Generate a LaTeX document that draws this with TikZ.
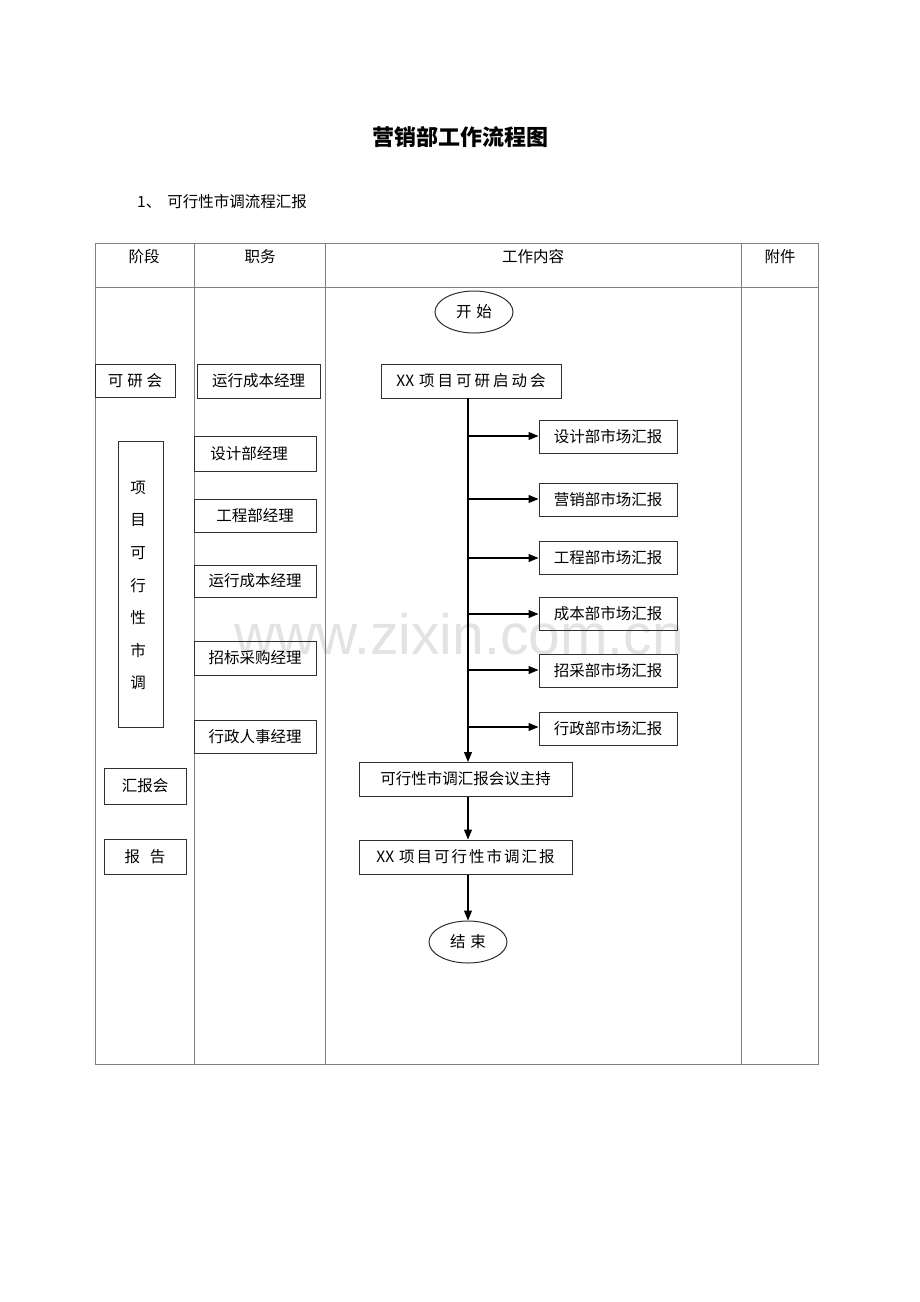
\documentclass[tikz,border=0pt]{standalone}
\usepackage{fontspec}
\setmainfont{Noto Sans CJK SC}
\newfontfamily\wmfont{Liberation Sans}
\usetikzlibrary{shapes.geometric,arrows.meta}
\definecolor{tblgray}{HTML}{808080}
\definecolor{boxline}{HTML}{303030}
\definecolor{wmgray}{HTML}{E3E3E3}
\begin{document}
\begin{tikzpicture}[x=1pt,y=-1pt,
  every node/.style={font=\fontsize{15.5}{17}\selectfont, inner sep=0pt},
  tline/.style={draw=tblgray, line width=0.9pt},
  bx/.style={draw=boxline, line width=1pt, rectangle},
  ov/.style={draw=boxline, line width=1pt, ellipse},
  arr/.style={draw=black, line width=1.1pt, -{Triangle[length=10pt,width=8pt]}},
  ln/.style={draw=black, line width=1.1pt}]
\useasboundingbox (0,0) rectangle (920,1302);
\fill[white] (0,0) rectangle (920,1302);
% watermark
\node[text=wmgray, font=\wmfont\fontsize{57}{60}\selectfont] (wm) at (459,634) {www.zixin.com.cn};
% title
\node[font=\bfseries\fontsize{22}{24}\selectfont] (title) at (460,137) {营销部工作流程图};
\node[anchor=west] (sub) at (137,202) {1、\hspace{6pt}可行性市调流程汇报};
% table
\draw[tline] (95,243) rectangle (818,1064);
\draw[tline] (95,287) -- (818,287);
\draw[tline] (194,243) -- (194,1064);
\draw[tline] (325,243) -- (325,1064);
\draw[tline] (741,243) -- (741,1064);
\node (h1) at (144,257) {阶段};
\node (h2) at (260,257) {职务};
\node (h3) at (533,257) {工作内容};
\node (h4) at (780,257) {附件};
% left column
\node[bx, minimum width=80pt, minimum height=33pt] (kyh) at (135,381) {可\hspace{4pt}研\hspace{4pt}会};
\node[bx, minimum width=45pt, minimum height=286pt] (xm) at (140.5,584) {};
\foreach \c [count=\i from 0] in {项,目,可,行,性,市,调} {
  \node (xm\i) at (138,488+32.5*\i) {\c};
}
\node[bx, minimum width=82pt, minimum height=36pt] (hbh) at (145,786) {汇报会};
\node[bx, minimum width=82pt, minimum height=35pt] (bg) at (145,856.5) {报\hspace{10pt}告};
% job column
\node[bx, minimum width=123pt, minimum height=34pt] (j1) at (258.5,381) {运行成本经理};
\node[bx, minimum width=122pt, minimum height=35pt] (j2) at (255,453.5) {\hspace{-12pt}设计部经理};
\node[bx, minimum width=122pt, minimum height=33pt] (j3) at (255,515.5) {工程部经理};
\node[bx, minimum width=122pt, minimum height=32pt] (j4) at (255,581) {运行成本经理};
\node[bx, minimum width=122pt, minimum height=34pt] (j5) at (255,658) {招标采购经理};
\node[bx, minimum width=122pt, minimum height=33pt] (j6) at (255,736.5) {行政人事经理};
% flow
\node[ov, minimum width=78pt, minimum height=42pt] (start) at (474,312) {开\hspace{5pt}始};
\node[bx, minimum width=180pt, minimum height=34pt] (kick) at (471,381) {XX\hspace{5pt}项\hspace{3pt}目\hspace{3pt}可\hspace{3pt}研\hspace{3pt}启\hspace{3pt}动\hspace{3pt}会};
\node[bx, minimum width=138pt, minimum height=33pt] (r1) at (608,436.5) {设计部市场汇报};
\node[bx, minimum width=138pt, minimum height=33pt] (r2) at (608,499.5) {营销部市场汇报};
\node[bx, minimum width=138pt, minimum height=33pt] (r3) at (608,557.5) {工程部市场汇报};
\node[bx, minimum width=138pt, minimum height=33pt] (r4) at (608,613.5) {成本部市场汇报};
\node[bx, minimum width=138pt, minimum height=33pt] (r5) at (608,670.5) {招采部市场汇报};
\node[bx, minimum width=138pt, minimum height=33pt] (r6) at (608,728.5) {行政部市场汇报};
\node[bx, minimum width=213pt, minimum height=34pt] (host) at (465.5,779) {可行性市调汇报会议主持};
\node[bx, minimum width=213pt, minimum height=34pt] (rep) at (465.5,857) {XX\hspace{5pt}项\hspace{2pt}目\hspace{2pt}可\hspace{2pt}行\hspace{2pt}性\hspace{2pt}市\hspace{2pt}调\hspace{2pt}汇\hspace{2pt}报};
\node[ov, minimum width=78pt, minimum height=42pt] (end) at (468,942) {结\hspace{5pt}束};
% connectors
\coordinate (vtop) at (468,398);
\coordinate (vbot) at (468,762);
\draw[arr] (vtop) -- (vbot);
\foreach \k/\yy in {1/436,2/499,3/558,4/614,5/670,6/727} {
  \coordinate (b\k) at (468,\yy);
  \draw[arr] (b\k) -- (b\k -| r\k.west);
}
\draw[arr] (host.south -| vbot) -- (rep.north -| vbot);
\draw[arr] (rep.south -| vbot) -- (end.north);
\end{tikzpicture}
\end{document}
